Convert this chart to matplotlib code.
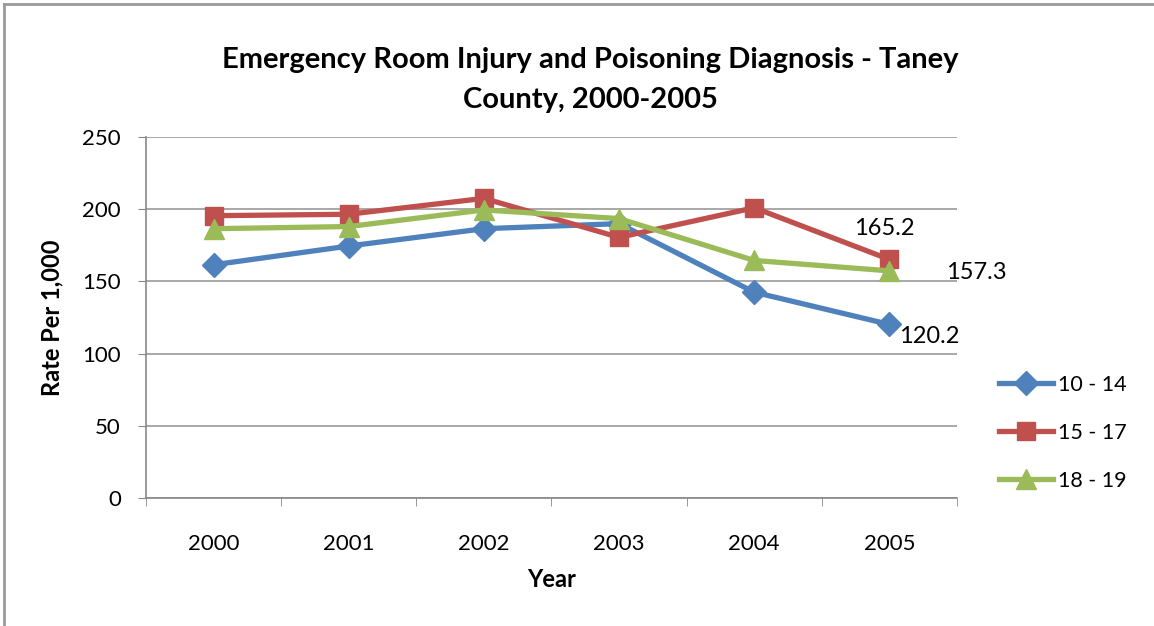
import matplotlib
matplotlib.use("Agg")
import matplotlib.pyplot as plt
from matplotlib.lines import Line2D

years = ["2000", "2001", "2002", "2003", "2004", "2005"]
s_10_14 = [161.5, 174.5, 186.5, 190.0, 142.5, 120.2]
s_15_17 = [195.5, 196.5, 207.5, 180.5, 201.0, 165.2]
s_18_19 = [186.5, 188.0, 199.5, 193.5, 164.5, 157.3]
series_names = ["10 - 14", "15 - 17", "18 - 19"]

plt.rcParams['font.family'] = ['Lato', 'DejaVu Sans']

fig = plt.figure(figsize=(11.54, 6.26), dpi=100)
ax = fig.add_axes([146/1154, 1-498/626, (957-146)/1154, (498-137)/626])

x = list(range(len(years)))
styles = [
    (s_10_14, "#4F81BD", "D", 12),
    (s_15_17, "#C0504D", "s", 13),
    (s_18_19, "#9BBB59", "^", 15),
]
for (vals, col, mk, ms), name in zip(styles, series_names):
    ax.plot(x, vals, color=col, lw=3.8, marker=mk, markersize=ms,
            markerfacecolor=col, markeredgecolor=col, label=name, zorder=3)

ax.set_xlim(-0.5, 5.5)
ax.set_ylim(0, 250)
ax.set_yticks([0, 50, 100, 150, 200, 250])
ax.set_xticks(x)
ax.set_xticklabels(years)
ax.set_xticks([i - 0.5 for i in range(7)], minor=True)
ax.tick_params(axis='x', which='major', length=0, pad=26, labelsize=16)
ax.tick_params(axis='x', which='minor', length=6, color='#888888', direction='out')
ax.tick_params(axis='y', length=6, color='#888888', labelsize=16, pad=12)
ax.yaxis.grid(True, color='#999999', lw=1.2)
ax.set_axisbelow(True)
for sp in ['top', 'right']:
    ax.spines[sp].set_visible(False)
for sp in ['left', 'bottom']:
    ax.spines[sp].set_color('#888888')
    ax.spines[sp].set_linewidth(1.2)

ax.set_xlabel("Year", fontsize=17, fontweight='bold', labelpad=10)
ax.set_ylabel("Rate Per 1,000", fontsize=17, fontweight='bold', labelpad=14)

ax.annotate(f"{s_15_17[5]}", (5, s_15_17[5]), xytext=(-4, 22), textcoords='offset points',
            ha='center', va='center', fontsize=17)
ax.annotate(f"{s_18_19[5]}", (5, s_18_19[5]), xytext=(41, -1), textcoords='offset points',
            ha='left', va='center', fontsize=17)
ax.annotate(f"{s_10_14[5]}", (5, s_10_14[5]), xytext=(7, -9), textcoords='offset points',
            ha='left', va='center', fontsize=17)

fig.text(590/1154, 1-60/626, "Emergency Room Injury and Poisoning Diagnosis - Taney",
         ha='center', va='center', fontsize=21, fontweight='bold')
fig.text(590/1154, 1-100/626, "County, 2000-2005",
         ha='center', va='center', fontsize=21, fontweight='bold')

leg = fig.legend(loc='center left', bbox_to_anchor=(980/1154, 1-433/626), frameon=False,
                 fontsize=15.5, handlelength=2.5, labelspacing=1.3, handletextpad=0.2)

fig.add_artist(Line2D([4/1154, 1], [1-4/626, 1-4/626], transform=fig.transFigure,
                      color='#999999', lw=2))
fig.add_artist(Line2D([4/1154, 4/1154], [0, 1-4/626], transform=fig.transFigure,
                      color='#999999', lw=2))

fig.savefig("out.png", dpi=100)
